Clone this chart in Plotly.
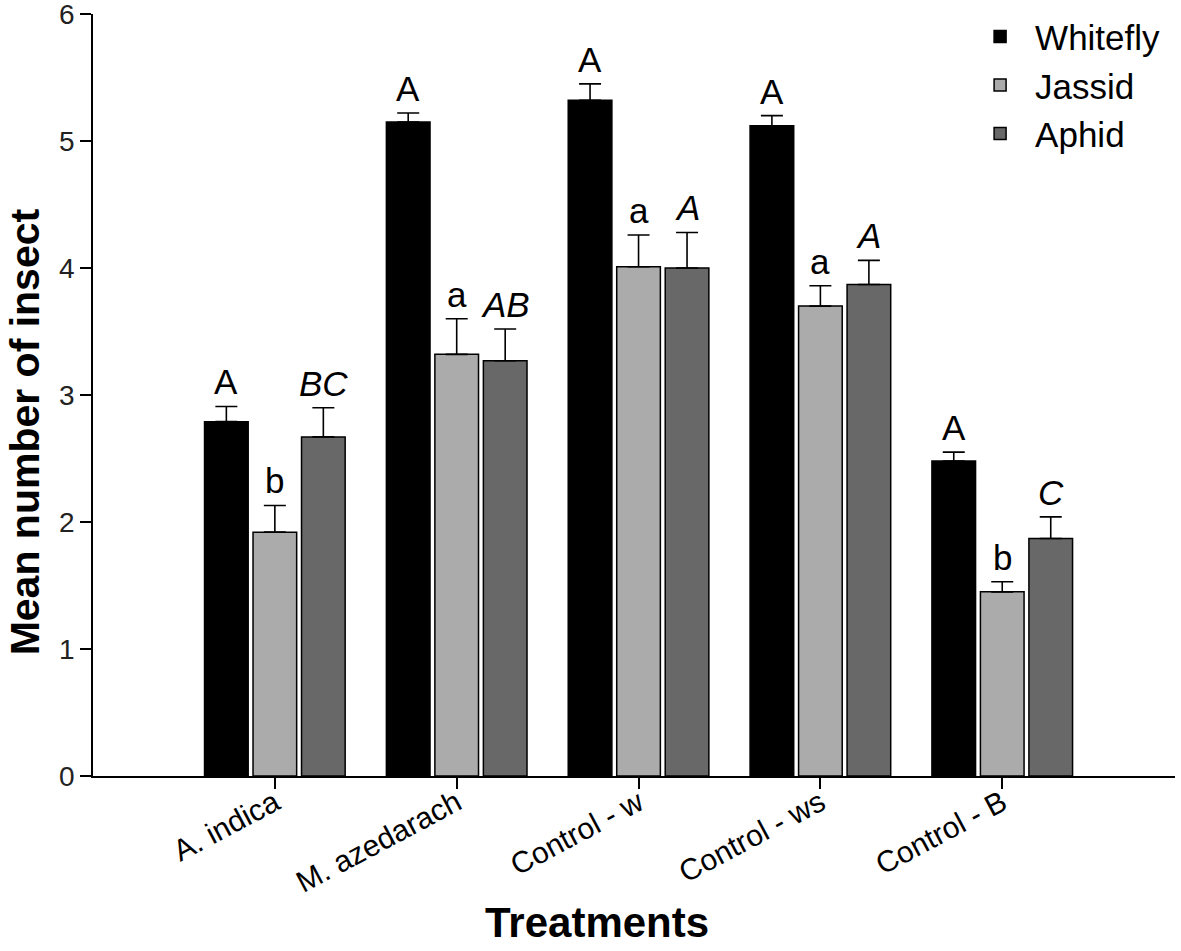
import plotly.graph_objects as go

treatments = ["A. indica", "M. azedarach", "Control - w", "Control - ws", "Control - B"]
whitefly = [2.79, 5.15, 5.32, 5.12, 2.48]
whitefly_err = [0.12, 0.07, 0.13, 0.08, 0.07]
jassid = [1.92, 3.32, 4.01, 3.70, 1.45]
jassid_err = [0.21, 0.28, 0.25, 0.16, 0.08]
aphid = [2.67, 3.27, 4.00, 3.87, 1.87]
aphid_err = [0.23, 0.25, 0.28, 0.19, 0.17]
whitefly_letters = ["A", "A", "A", "A", "A"]
jassid_letters = ["b", "a", "a", "a", "b"]
aphid_letters = ["<i>BC</i>", "<i>AB</i>", "<i>A</i>", "<i>A</i>", "<i>C</i>"]

FONT = "Liberation Sans, Arial, sans-serif"
bargap = 0.2
xpos = list(range(len(treatments)))

series = [
    ("Whitefly", whitefly, whitefly_err, whitefly_letters, "#000000"),
    ("Jassid", jassid, jassid_err, jassid_letters, "#ababab"),
    ("Aphid", aphid, aphid_err, aphid_letters, "#686868"),
]

fig = go.Figure()
annotations = []
n = len(series)
pitch = (1 - bargap) / n
for j, (name, vals, errs, letters, color) in enumerate(series):
    fig.add_trace(go.Bar(
        name=name, x=xpos, y=vals,
        marker=dict(color=color, line=dict(color="black", width=1.5)),
        error_y=dict(type="data", array=errs, arrayminus=[0] * len(errs), symmetric=False,
                     color="black", thickness=1.6, width=11),
    ))
    off = (j - (n - 1) / 2) * pitch
    for i, (v, e, t) in enumerate(zip(vals, errs, letters)):
        annotations.append(dict(
            x=i + off, y=v + e, xref="x", yref="y", text=t, showarrow=False,
            yanchor="bottom", yshift=3, font=dict(family=FONT, size=35, color="black"),
        ))

annotations.append(dict(
    x=0.466, y=0, xref="paper", yref="paper", yanchor="middle", yshift=-146,
    text="<b>Treatments</b>", showarrow=False,
    font=dict(family=FONT, size=42, color="black"),
))
annotations.append(dict(
    x=0, y=0.451, xref="paper", yref="paper", xanchor="center", yanchor="middle",
    xshift=-68, textangle=-90,
    text="<b>Mean number of insect</b>", showarrow=False,
    font=dict(family=FONT, size=41, color="black"),
))

fig.update_layout(
    width=1181, height=951,
    margin=dict(l=93, r=6, t=14, b=175),
    plot_bgcolor="white", paper_bgcolor="white",
    barmode="group", bargap=bargap, bargroupgap=0.1,
    font=dict(family=FONT, color="black"),
    annotations=annotations,
    legend=dict(x=0.806, xanchor="left", y=1.009, yanchor="top",
                font=dict(family=FONT, size=35, color="black"),
                itemwidth=60, tracegroupgap=0, bgcolor="rgba(0,0,0,0)"),
    xaxis=dict(
        range=[-1.0, 4.95], tickvals=xpos, ticktext=treatments, tickangle=-28,
        showline=True, linecolor="black", linewidth=1.5,
        ticks="outside", ticklen=11, tickwidth=1.5, tickcolor="black",
        showgrid=False, zeroline=False, automargin=False,
        ticklabelstandoff=-15,
        tickfont=dict(family=FONT, size=30, color="black"),
    ),
    yaxis=dict(
        range=[0, 6], tickvals=[0, 1, 2, 3, 4, 5, 6],
        showline=True, linecolor="black", linewidth=1.5,
        ticks="outside", ticklen=11, tickwidth=1.5, tickcolor="black",
        showgrid=False, zeroline=False, automargin=False,
        ticklabeloverflow="allow",
        tickfont=dict(family=FONT, size=28, color="#222222"),
    ),
)

fig.write_html("out.html", config={"displayModeBar": False},
               post_script="document.body.style.margin='0px';")
